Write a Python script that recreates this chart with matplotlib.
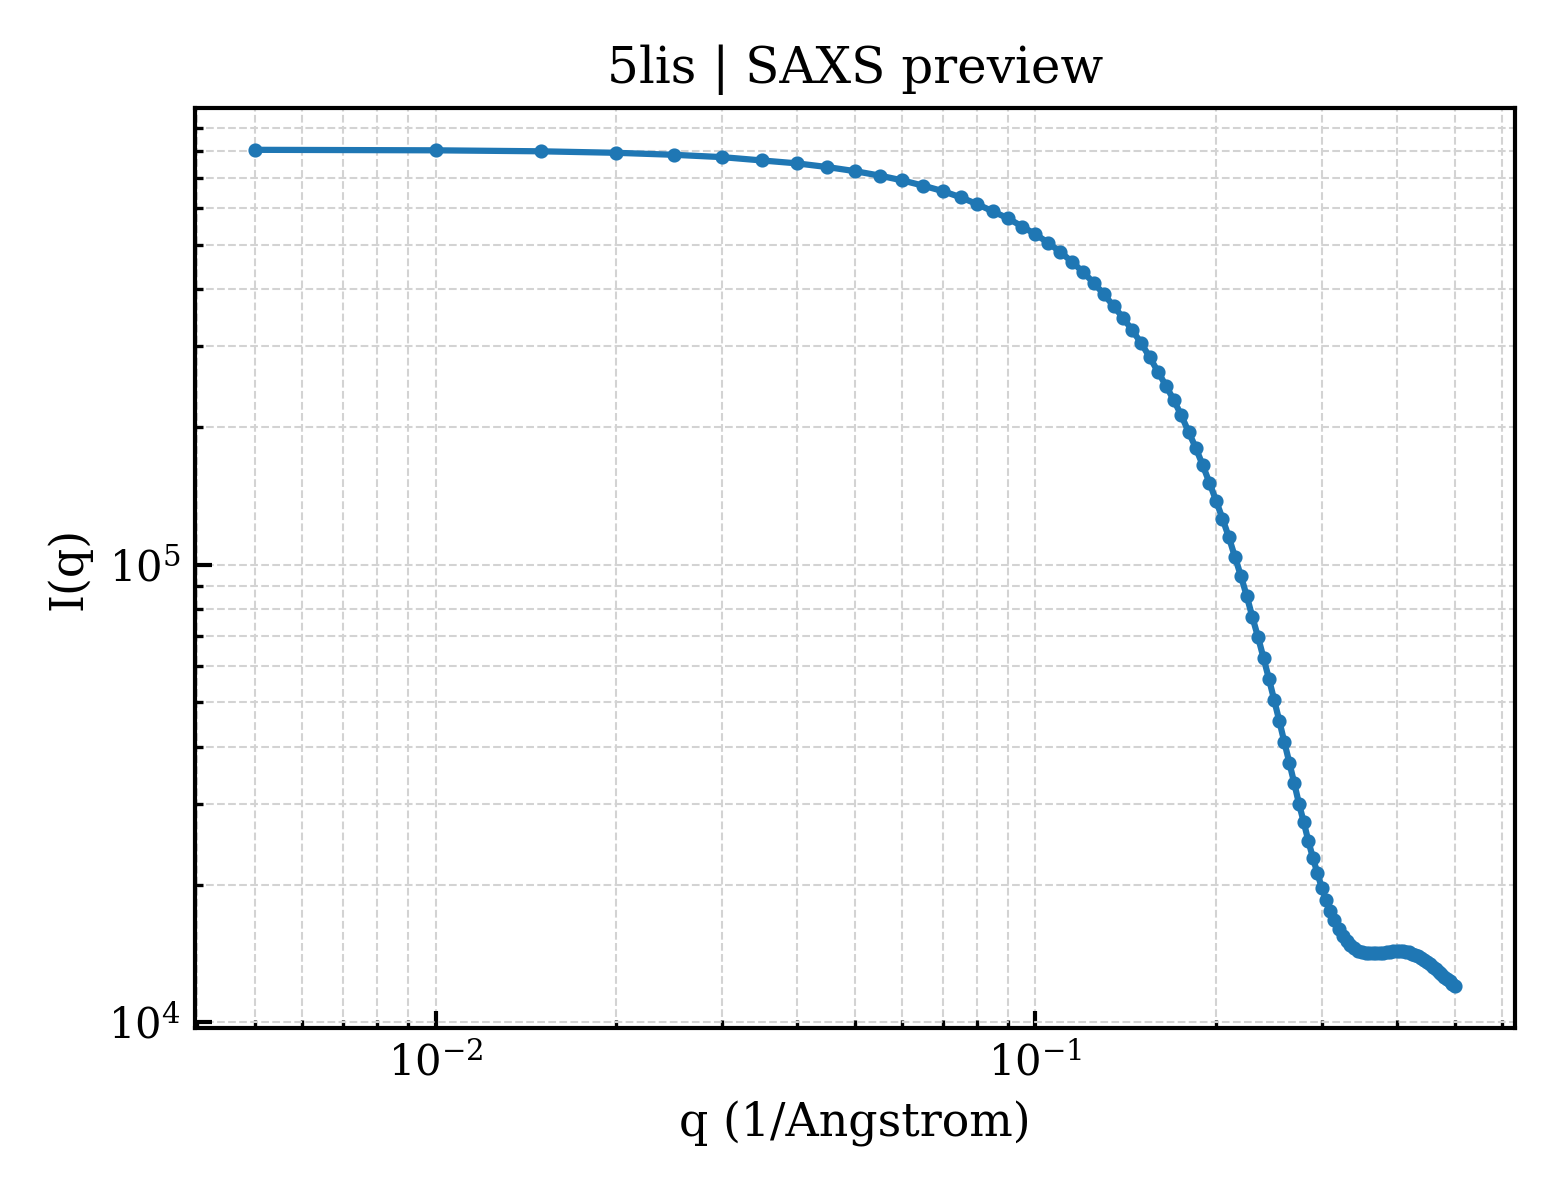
import numpy as np
import matplotlib
matplotlib.use("Agg")
from matplotlib import pyplot as plt

plt.rcParams['font.family'] = 'DejaVu Serif'
plt.rcParams['mathtext.fontset'] = 'dejavuserif'
plt.rcParams['axes.linewidth'] = 1.0

# q grid (1/Angstrom)
q = [0.005, 0.010, 0.015, 0.020, 0.025, 0.030, 0.035, 0.040, 0.045, 0.050,
     0.055, 0.060, 0.065, 0.070, 0.075, 0.080, 0.085, 0.090, 0.095, 0.100,
     0.105, 0.110, 0.115, 0.120, 0.125, 0.130, 0.135, 0.140, 0.145, 0.150,
     0.155, 0.160, 0.165, 0.170, 0.175, 0.180, 0.185, 0.190, 0.195, 0.200,
     0.205, 0.210, 0.215, 0.220, 0.225, 0.230, 0.235, 0.240, 0.245, 0.250,
     0.255, 0.260, 0.265, 0.270, 0.275, 0.280, 0.285, 0.290, 0.295, 0.300,
     0.305, 0.310, 0.315, 0.320, 0.325, 0.330, 0.335, 0.340, 0.345, 0.350,
     0.355, 0.360, 0.365, 0.370, 0.375, 0.380, 0.385, 0.390, 0.395, 0.400,
     0.405, 0.410, 0.415, 0.420, 0.425, 0.430, 0.435, 0.440, 0.445, 0.450,
     0.455, 0.460, 0.465, 0.470, 0.475, 0.480, 0.485, 0.490, 0.495, 0.500]

# intensity I(q)
intensity = [8.06e5, 8.04e5, 8.00e5, 7.94e5, 7.86e5, 7.77e5, 7.64e5, 7.53e5, 7.39e5, 7.24e5,
             7.08e5, 6.91e5, 6.73e5, 6.55e5, 6.35e5, 6.13e5, 5.91e5, 5.71e5, 5.48e5, 5.27e5,
             5.05e5, 4.82e5, 4.59e5, 4.36e5, 4.13e5, 3.90e5, 3.67e5, 3.46e5, 3.25e5, 3.05e5,
             2.84e5, 2.64e5, 2.46e5, 2.29e5, 2.12e5, 1.95e5, 1.80e5, 1.65e5, 1.51e5, 1.38e5,
             1.26e5, 1.15e5, 1.04e5, 9.45e4, 8.54e4, 7.67e4, 6.94e4, 6.25e4, 5.63e4, 5.06e4,
             4.55e4, 4.09e4, 3.69e4, 3.33e4, 3.00e4, 2.74e4, 2.49e4, 2.29e4, 2.12e4, 1.97e4,
             1.85e4, 1.75e4, 1.67e4, 1.60e4, 1.544e4, 1.505e4, 1.475e4, 1.453e4, 1.435e4, 1.424e4,
             1.419e4, 1.416e4, 1.415e4, 1.416e4, 1.417e4, 1.420e4, 1.423e4, 1.426e4, 1.428e4, 1.431e4,
             1.431e4, 1.428e4, 1.424e4, 1.421e4, 1.413e4, 1.404e4, 1.394e4, 1.382e4, 1.368e4, 1.354e4,
             1.340e4, 1.323e4, 1.307e4, 1.291e4, 1.275e4, 1.259e4, 1.243e4, 1.228e4, 1.213e4, 1.199e4]

fig, ax = plt.subplots(figsize=(5.2, 4.0), dpi=300)
fig.subplots_adjust(left=0.125, right=0.971, top=0.91, bottom=0.1433)

ax.plot(q, intensity, marker='o', markersize=2.4, lw=1.5, color='#1f77b4')
ax.set_xscale('log')
ax.set_yscale('log')

ax.set_xlabel('q (1/Angstrom)', fontsize=11)
ax.set_ylabel('I(q)', fontsize=11)
ax.set_title('5lis | SAXS preview', fontsize=12)

ax.tick_params(which='both', direction='in', labelsize=10, width=1.0)
ax.tick_params(which='major', length=4)
ax.tick_params(which='minor', length=2, width=0.8)
ax.grid(which='both', ls='--', lw=0.5, color='#d3d3d3')

plt.savefig('out.png', dpi=300)
